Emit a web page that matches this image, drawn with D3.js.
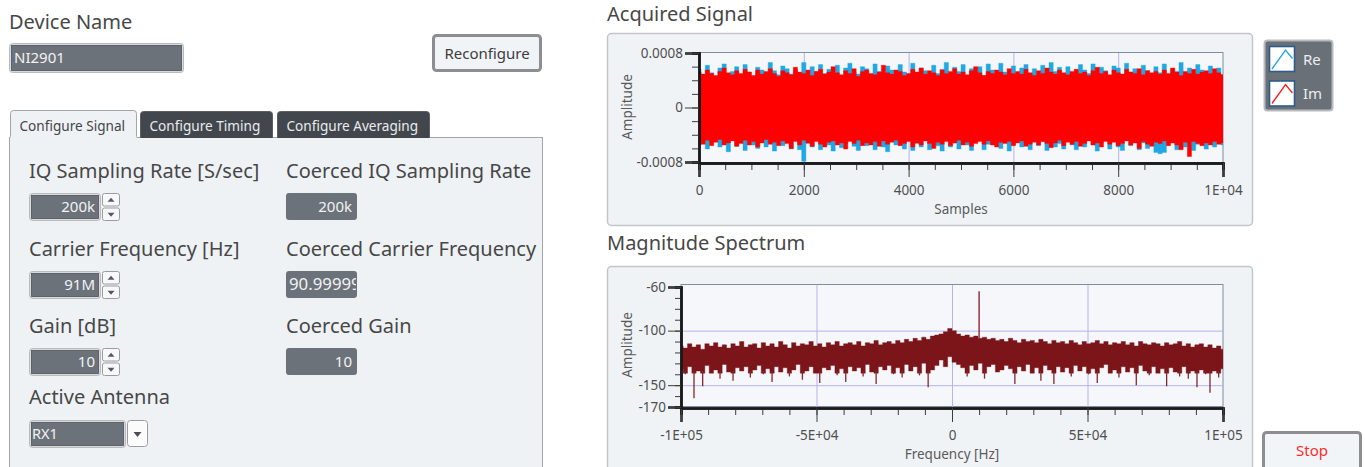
<!DOCTYPE html>
<html lang="en">
<head>
<meta charset="UTF-8">
<title>NI2901 Receive</title>
<style>
  body { margin: 0; background: #fff; }
  svg { display: block; font-family: "Noto Sans", sans-serif; }
  .lbl { font-size: 20px; fill: #474747; }
  .tick text { font-size: 13.5px; fill: #4f4f4f; font-family: "Noto Sans", sans-serif; }
  .axtitle { font-size: 13.5px; fill: #5a5a5a; }
</style>
</head>
<body>
<svg id="vi" width="1365" height="467"></svg>
<script src="https://d3js.org/d3.v7.min.js"></script>
<script>

// ---- Acquired Signal: per-bin max / min, in units of 1e-5 ----
var sigStep = 80; // samples per bin, 126 bins -> 0..10000
var reTop = [56,48,62,51,45,58,64,49,53,60, 47,63,52,46,59,55,50,66,54,48,
  61,57,49,55,51,66,47,60,53,63, 50,56,48,62,46,58,65,52,49,60,
  57,47,64,53,50,61,55,46,63,52, 49,65,51,58,54,47,62,50,56,66,
  48,59,53,63,46,57,51,60,47,64, 55,49,65,52,50,61,46,58,63,50,
  57,48,62,47,66,53,59,46,60,51, 45,63,55,50,64,48,59,54,47,61,
  58,49,65,52,57,46,62,54,48,60, 51,64,47,56,53,66,50,58,49,63,
  55,47,61,52,58,48];
var reBot = [-55,-49,-61,-52,-46,-58,-53,-65,-48,-57, -51,-63,-47,-55,-60,-49,-58,-52,-64,-47,
  -56,-50,-61,-48,-62,-79,-53,-58,-47,-62, -50,-55,-64,-48,-59,-53,-46,-57,-63,-50,
  -56,-48,-62,-52,-58,-65,-47,-55,-50,-61, -49,-63,-53,-58,-46,-62,-51,-56,-64,-48,
  -58,-52,-61,-47,-55,-63,-50,-48,-62,-54, -52,-46,-60,-50,-64,-55,-48,-58,-52,-62,
  -47,-56,-50,-63,-48,-58,-53,-61,-46,-55, -62,-50,-58,-48,-55,-64,-52,-47,-61,-50,
  -58,-63,-48,-56,-50,-62,-52,-60,-55,-66, -68,-66,-52,-49,-62,-51,-58,-48,-63,-54,
  -50,-61,-52,-58,-47,-55];
var imTop = [52,49,55,50,47,53,58,51,48,54, 50,56,52,47,55,49,53,57,50,46,
  54,51,48,59,52,50,55,47,53,56, 49,52,60,51,48,54,50,57,46,53,
  55,50,48,52,62,51,49,55,53,47, 50,56,52,58,49,54,51,47,55,50,
  53,57,49,52,48,54,60,51,47,53, 50,55,52,48,57,50,53,49,56,51,
  47,54,50,58,52,49,55,51,48,53, 56,50,52,47,54,59,50,53,48,55,
  51,49,56,52,50,57,48,54,51,53, 49,55,50,58,52,47,53,50,56,49,
  52,54,50,57,51,48];
var imBot = [-50,-54,-48,-56,-51,-47,-55,-52,-49,-57, -53,-48,-55,-50,-58,-52,-47,-54,-51,-56,
  -49,-53,-60,-50,-55,-48,-52,-57,-50,-54, -58,-51,-49,-55,-52,-61,-50,-53,-48,-56,
  -52,-55,-50,-57,-49,-54,-51,-48,-56,-53, -50,-58,-52,-55,-49,-53,-60,-51,-54,-50,
  -56,-52,-48,-55,-51,-57,-53,-50,-54,-49, -55,-58,-51,-53,-50,-56,-52,-49,-57,-54,
  -51,-55,-50,-53,-59,-52,-48,-56,-51,-54, -50,-57,-53,-49,-55,-52,-58,-50,-54,-51,
  -56,-53,-49,-55,-52,-60,-50,-54,-57,-51, -53,-49,-56,-52,-55,-62,-51,-72,-50,-53,
  -56,-52,-55,-50,-54,-52];
var sigTicks = [0, 2000, 4000, 6000, 8000, 10000];
var sigTickLabels = ["0", "2000", "4000", "6000", "8000", "1E+04"];
var ampTicks = [-0.0008, 0, 0.0008];
var ampTickLabels = ["-0.0008", "0", "0.0008"];

// ---- Magnitude Spectrum: per-bin max / min in dB ----
var specStart = -100000, specStep = 1600; // 126 bins -> -1E5..1E5
var specTop = [-114,-116,-112,-115,-113,-117,-112,-114,-111,-115, -113,-116,-112,-114,-110,-115,-113,-112,-116,-111,
  -114,-112,-115,-110,-113,-116,-111,-114,-112,-113, -110,-114,-112,-115,-111,-113,-110,-114,-112,-111,
  -113,-110,-114,-111,-112,-109,-113,-111,-110,-112, -109,-111,-108,-110,-107,-109,-106,-108,-105,-104,
  -103,-101,-98,-100,-103,-105,-104,-106,-105,-107, -106,-108,-107,-109,-108,-110,-107,-109,-111,-108,
  -110,-109,-111,-108,-110,-112,-109,-111,-110,-112, -109,-111,-113,-110,-112,-111,-109,-112,-110,-113,
  -111,-112,-110,-113,-111,-114,-110,-112,-113,-111, -112,-114,-111,-113,-112,-110,-114,-112,-115,-113,
  -112,-115,-113,-116,-114,-117];
var specBot = [-135,-140,-133,-162,-137,-151,-132,-139,-136,-144, -131,-138,-146,-134,-137,-133,-143,-136,-132,-140,
  -135,-147,-133,-138,-134,-142,-136,-131,-145,-137, -133,-139,-148,-134,-136,-132,-141,-135,-147,-133,
  -137,-134,-142,-131,-138,-149,-133,-136,-132,-140, -134,-143,-131,-137,-133,-141,-130,-152,-136,-132,
  -127,-133,-124,-129,-131,-134,-142,-132,-136,-130, -144,-133,-131,-138,-136,-132,-135,-149,-133,-137,
  -131,-139,-134,-146,-132,-136,-149,-133,-138,-134, -142,-132,-137,-133,-140,-135,-148,-134,-131,-139,
  -136,-143,-133,-138,-134,-150,-132,-137,-141,-133, -139,-135,-151,-134,-138,-142,-133,-144,-137,-152,
  -136,-140,-157,-137,-143,-135];
var specFloor = -139; // below this the dips are drawn as thin lines
var toneFreq = [10000];
var toneDb = [-64];
var freqTicks = [-100000, -50000, 0, 50000, 100000];
var freqTickLabels = ["-1E+05", "-5E+04", "0", "5E+04", "1E+05"];
var dbTicks = [-170, -150, -100, -60];
var dbTickLabels = ["-170", "-150", "-100", "-60"];

// ---- front panel controls ----
var deviceName = "NI2901";
var signalLabels = ["IQ Sampling Rate [S/sec]", "Carrier Frequency [Hz]", "Gain [dB]"];
var signalValues = ["200k", "91M", "10"];
var coercedLabels = ["Coerced IQ Sampling Rate", "Coerced Carrier Frequency", "Coerced Gain"];
var coercedValues = ["200k", "90.99999M", "10"];
var tabNames = ["Configure Signal", "Configure Timing", "Configure Averaging"];
var legendNames = ["Re", "Im"];
var legendColors = ["#1fa8e4", "#ff1a1a"];

var svg = d3.select("#vi");
var ctlFill = "#6c727a";

// ---------- left side ----------
svg.append("text").attr("class", "lbl").attr("x", 9).attr("y", 29).text("Device Name");

function valueBox(x, y, w, h, txt, align) {
  var g = svg.append("g");
  g.append("rect").attr("x", x + 0.5).attr("y", y + 0.5).attr("width", w).attr("height", h)
    .attr("rx", 3).attr("fill", "#d9dadc").attr("stroke", "#b9bbbe");
  g.append("rect").attr("x", x + 2.5).attr("y", y + 2.5).attr("width", w - 4).attr("height", h - 4)
    .attr("fill", ctlFill).attr("stroke", "#4e535a").attr("stroke-width", 0.8);
  g.append("text").attr("x", align === "end" ? x + w - 5 : x + 5).attr("y", y + h / 2 + 5.5)
    .attr("text-anchor", align === "end" ? "end" : "start")
    .attr("font-size", 15).attr("fill", "#f2f3f4").text(txt);
  return g;
}

valueBox(9, 43, 174, 29, deviceName, "start");

// Reconfigure button
svg.append("rect").attr("x", 433.5).attr("y", 35.5).attr("width", 107).attr("height", 35)
  .attr("rx", 3).attr("fill", "#f1f4f7").attr("stroke", "#8c8e91").attr("stroke-width", 3);
svg.append("text").attr("x", 487).attr("y", 59).attr("text-anchor", "middle")
  .attr("font-size", 15).attr("fill", "#3d3d3d").text("Reconfigure");

// tab control
var panelFill = "#eff2f5";
svg.append("rect").attr("x", 9.5).attr("y", 137.5).attr("width", 533).attr("height", 360)
  .attr("fill", panelFill).attr("stroke", "#a3a5a8");
var tabX = [10, 140, 277], tabW = [127, 133, 153];
tabNames.forEach(function (name, i) {
  var x0 = tabX[i] + 0.5, x1 = tabX[i] + tabW[i] - 0.5, top = i === 0 ? 110.5 : 111.5;
  svg.append("path")
    .attr("d", "M" + x0 + ",138 V" + (top + 3) + " Q" + x0 + "," + top + " " + (x0 + 3) + "," + top +
      " H" + (x1 - 3) + " Q" + x1 + "," + top + " " + x1 + "," + (top + 3) + " V138")
    .attr("fill", i === 0 ? panelFill : "#42474d")
    .attr("stroke", i === 0 ? "#a3a5a8" : "#5c6066");
  svg.append("text").attr("x", tabX[i] + 9.5).attr("y", 131).attr("font-size", 13.6)
    .attr("fill", i === 0 ? "#454545" : "#e9ebed").text(name);
});
svg.append("rect").attr("x", 10.5).attr("y", 136.5).attr("width", 126).attr("height", 2).attr("fill", panelFill);

function spinner(x, y, h) {
  var half = (h - 1) / 2;
  [0, 1].forEach(function (k) {
    var yy = y + k * (half + 1);
    svg.append("rect").attr("x", x + 0.5).attr("y", yy + 0.5).attr("width", 17).attr("height", half - 1)
      .attr("rx", 2).attr("fill", "#f7f8f9").attr("stroke", "#9a9ca0");
    var cx = x + 9, cy = yy + half / 2;
    var d = k === 0
      ? "M" + (cx - 3.5) + "," + (cy + 2) + " L" + (cx + 3.5) + "," + (cy + 2) + " L" + cx + "," + (cy - 2) + "Z"
      : "M" + (cx - 3.5) + "," + (cy - 1.5) + " L" + (cx + 3.5) + "," + (cy - 1.5) + " L" + cx + "," + (cy + 2.5) + "Z";
    svg.append("path").attr("d", d).attr("fill", "#55595f");
  });
}

var rowLabelY = [178, 256, 333], rowCtlY = [193, 271, 348];
signalLabels.forEach(function (lab, i) {
  svg.append("text").attr("class", "lbl").attr("x", 29).attr("y", rowLabelY[i]).text(lab);
  valueBox(29, rowCtlY[i], 71, 27, signalValues[i], "end");
  spinner(102, rowCtlY[i], 28);

  svg.append("text").attr("class", "lbl").attr("x", 286).attr("y", rowLabelY[i]).text(coercedLabels[i]);
  var clipId = "ind" + i;
  svg.append("clipPath").attr("id", clipId).append("rect")
    .attr("x", 286).attr("y", rowCtlY[i]).attr("width", 70).attr("height", 27);
  svg.append("rect").attr("x", 286).attr("y", rowCtlY[i]).attr("width", 71).attr("height", 27)
    .attr("rx", 3).attr("fill", ctlFill);
  var long = coercedValues[i].length > 5;
  svg.append("text").attr("clip-path", "url(#" + clipId + ")")
    .attr("x", long ? 289 : 352).attr("y", rowCtlY[i] + 19)
    .attr("text-anchor", long ? "start" : "end")
    .attr("font-size", long ? 16.8 : 15).attr("fill", "#f2f3f4").text(coercedValues[i]);
});

svg.append("text").attr("class", "lbl").attr("x", 29).attr("y", 404).text("Active Antenna");
valueBox(29, 420, 96, 27, "RX1", "start").select("text").attr("x", 32).attr("font-size", 14.5);
svg.append("rect").attr("x", 127.5).attr("y", 420.5).attr("width", 20).attr("height", 26)
  .attr("rx", 3).attr("fill", "#fbfbfc").attr("stroke", "#9a9ca0");
svg.append("path").attr("d", "M133.5,432 L141.5,432 L137.5,437 Z").attr("fill", "#4a4e54");

// ---------- Acquired Signal ----------
svg.append("text").attr("class", "lbl").attr("x", 607).attr("y", 21).text("Acquired Signal");
svg.append("rect").attr("x", 607.5).attr("y", 33.5).attr("width", 645).attr("height", 192)
  .attr("rx", 4).attr("fill", "#f0f3f6").attr("stroke", "#c3c5c8").attr("stroke-width", 1.5);

var sx = d3.scaleLinear().domain([0, 10000]).range([699, 1223]);
var sy = d3.scaleLinear().domain([-0.0008, 0.0008]).range([162, 53]);
var unit = 1e-5;

var sPlot = svg.append("g");
sPlot.append("rect").attr("x", 699).attr("y", 52.5).attr("width", 524).attr("height", 110)
  .attr("fill", "#f5f7fb").attr("stroke", "#7f8ca1");
svg.append("clipPath").attr("id", "sclip").append("rect")
  .attr("x", 700).attr("y", 53).attr("width", 523).attr("height", 109);

sPlot.selectAll("line.vg").data(sigTicks.slice(1, -1)).enter().append("line")
  .attr("x1", function (d) { return sx(d) + 0.5; }).attr("x2", function (d) { return sx(d) + 0.5; })
  .attr("y1", 53).attr("y2", 162).attr("stroke", "#b3b3ef");

function sigBand(top, bot) {
  return d3.area().curve(d3.curveStep)
    .x(function (d, i) { return sx(i * sigStep); })
    .y0(function (d, i) { return sy(bot[i] * unit); })
    .y1(function (d) { return sy(d * unit); })(top);
}
var sig = sPlot.append("g").attr("clip-path", "url(#sclip)");
sig.append("path").attr("d", sigBand(reTop, reBot))
  .attr("fill", legendColors[0]).attr("stroke", legendColors[0]).attr("stroke-width", 0.4);
sig.append("path").attr("d", sigBand(imTop, imBot))
  .attr("fill", "#ff0000").attr("stroke", "#ff0000").attr("stroke-width", 0.4);

function styleAxis(g, domainW) {
  g.select(".domain").attr("stroke", "#1a1a1a").attr("stroke-width", domainW);
  g.selectAll(".tick line").attr("stroke", "#3c3c3c");
}

// x axis signal
var sxMinor = svg.append("g").attr("transform", "translate(0,163)")
  .call(d3.axisBottom(sx).tickValues(d3.range(0, 10001, 500)).tickSize(7).tickFormat(""));
styleAxis(sxMinor, 2.5);
var sxMajor = svg.append("g").attr("transform", "translate(0,163)")
  .call(d3.axisBottom(sx).tickValues(sigTicks).tickSize(14).tickPadding(8)
    .tickFormat(function (d, i) { return sigTickLabels[i]; }));
styleAxis(sxMajor, 2.5);
// y axis signal
var syMinor = svg.append("g").attr("transform", "translate(699,0)")
  .call(d3.axisLeft(sy).tickValues(d3.range(-8, 9, 2).map(function (v) { return v * 1e-4; }))
    .tickSize(7).tickFormat(""));
styleAxis(syMinor, 2.5);
var syMajor = svg.append("g").attr("transform", "translate(699,0)")
  .call(d3.axisLeft(sy).tickValues(ampTicks).tickSize(14).tickPadding(2)
    .tickFormat(function (d, i) { return ampTickLabels[i]; }));
styleAxis(syMajor, 2.5);

svg.append("text").attr("class", "axtitle").attr("x", 961).attr("y", 214)
  .attr("text-anchor", "middle").text("Samples");
svg.append("text").attr("class", "axtitle").attr("transform", "translate(632,107) rotate(-90)")
  .attr("text-anchor", "middle").text("Amplitude");

// legend
svg.append("rect").attr("x", 1264.5).attr("y", 40.5).attr("width", 68).attr("height", 70)
  .attr("rx", 3).attr("fill", "#6a7077").attr("stroke", "#b7babe").attr("stroke-width", 2);
legendNames.forEach(function (name, i) {
  var y0 = 46 + i * 34.5;
  svg.append("rect").attr("x", 1269.5).attr("y", y0 + 0.5).attr("width", 25).attr("height", 25)
    .attr("fill", "#ffffff").attr("stroke", "#2c5c8c").attr("stroke-width", 1.6);
  svg.append("polyline")
    .attr("points", [[1272, y0 + 23], [1285.5, y0 + 4], [1292.5, y0 + 12.5]].join(" "))
    .attr("fill", "none").attr("stroke", legendColors[i]).attr("stroke-width", 1.3);
  svg.append("text").attr("x", 1303).attr("y", y0 + 18.5).attr("font-size", 15)
    .attr("fill", "#eceef0").text(name);
});

// ---------- Magnitude Spectrum ----------
svg.append("text").attr("class", "lbl").attr("x", 607).attr("y", 250).text("Magnitude Spectrum");
svg.append("rect").attr("x", 607.5).attr("y", 266.5).attr("width", 645).attr("height", 230)
  .attr("rx", 4).attr("fill", "#f0f3f6").attr("stroke", "#c3c5c8").attr("stroke-width", 1.5);

var fx = d3.scaleLinear().domain([-100000, 100000]).range([681, 1223]);
var fy = d3.scaleLinear().domain([-170, -60]).range([407, 287]);

var fPlot = svg.append("g");
fPlot.append("rect").attr("x", 681).attr("y", 284.5).attr("width", 542).attr("height", 122)
  .attr("fill", "#f5f7fb").attr("stroke", "#7f8ca1");
svg.append("clipPath").attr("id", "fclip").append("rect")
  .attr("x", 682).attr("y", 285).attr("width", 541).attr("height", 122);
fPlot.selectAll("line.vg").data(freqTicks.slice(1, -1)).enter().append("line")
  .attr("x1", function (d) { return fx(d) + 0.5; }).attr("x2", function (d) { return fx(d) + 0.5; })
  .attr("y1", 285).attr("y2", 407).attr("stroke", "#b3b3ef");
fPlot.selectAll("line.hg").data([-100, -150]).enter().append("line")
  .attr("x1", 681).attr("x2", 1223)
  .attr("y1", function (d) { return fy(d) + 0.5; }).attr("y2", function (d) { return fy(d) + 0.5; })
  .attr("stroke", "#b3b3ef");

var specColor = "#7b1519";
var fBin = function (i) { return specStart + i * specStep; };
var spec = fPlot.append("g").attr("clip-path", "url(#fclip)");
spec.append("path")
  .attr("d", d3.area().curve(d3.curveStep)
    .x(function (d, i) { return fx(fBin(i)); })
    .y0(function (d, i) { return fy(Math.max(specBot[i], specFloor)); })
    .y1(function (d) { return fy(d); })(specTop))
  .attr("fill", specColor).attr("stroke", specColor).attr("stroke-width", 0.4);
// narrow dips below the dense band
spec.selectAll("line.dip").data(specBot.map(function (v, i) { return { f: fBin(i), v: v }; })
    .filter(function (d) { return d.v < specFloor; }))
  .enter().append("line")
  .attr("x1", function (d) { return fx(d.f); }).attr("x2", function (d) { return fx(d.f); })
  .attr("y1", fy(specFloor + 2)).attr("y2", function (d) { return fy(d.v); })
  .attr("stroke", "#86262a").attr("stroke-width", 1.3);
spec.selectAll("line.tone").data(toneFreq).enter().append("line")
  .attr("x1", function (d) { return fx(d); }).attr("x2", function (d) { return fx(d); })
  .attr("y1", fy(-108)).attr("y2", function (d, i) { return fy(toneDb[i]); })
  .attr("stroke", "#8c2a2e").attr("stroke-width", 1.4);

var fxMinor = svg.append("g").attr("transform", "translate(0,408)")
  .call(d3.axisBottom(fx).tickValues(d3.range(-100000, 100001, 10000)).tickSize(7).tickFormat(""));
styleAxis(fxMinor, 2.5);
var fxMajor = svg.append("g").attr("transform", "translate(0,408)")
  .call(d3.axisBottom(fx).tickValues(freqTicks).tickSize(14).tickPadding(8)
    .tickFormat(function (d, i) { return freqTickLabels[i]; }));
styleAxis(fxMajor, 2.5);
var fyMinor = svg.append("g").attr("transform", "translate(681,0)")
  .call(d3.axisLeft(fy).tickValues(d3.range(-170, -59, 10)).tickSize(6).tickFormat(""));
styleAxis(fyMinor, 2.5);
var fyMajor = svg.append("g").attr("transform", "translate(681,0)")
  .call(d3.axisLeft(fy).tickValues(dbTicks).tickSize(13).tickPadding(2)
    .tickFormat(function (d, i) { return dbTickLabels[i]; }));
styleAxis(fyMajor, 2.5);
svg.selectAll(".tick text").attr("font-size", null).attr("font-family", null);

svg.append("text").attr("class", "axtitle").attr("x", 952).attr("y", 459)
  .attr("text-anchor", "middle").text("Frequency [Hz]");
svg.append("text").attr("class", "axtitle").attr("transform", "translate(632,345) rotate(-90)")
  .attr("text-anchor", "middle").text("Amplitude");

// Stop button
svg.append("rect").attr("x", 1263.5).attr("y", 432.5).attr("width", 97).attr("height", 40)
  .attr("rx", 3).attr("fill", "#f2f5f8").attr("stroke", "#8c8e91").attr("stroke-width", 3);
svg.append("text").attr("x", 1312).attr("y", 456).attr("text-anchor", "middle")
  .attr("font-size", 15).attr("fill", "#ff2a2a").text("Stop");

</script>
</body>
</html>
